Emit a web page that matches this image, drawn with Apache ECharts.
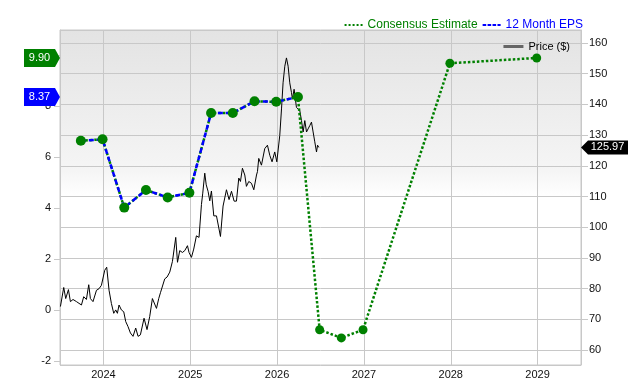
<!DOCTYPE html>
<html>
<head>
<meta charset="utf-8">
<script src="https://cdn.jsdelivr.net/npm/echarts@6.0.0/dist/echarts.min.js"></script>
<style>
  html, body { margin: 0; padding: 0; background: #fff; }
  #chart { width: 640px; height: 380px; }
</style>
</head>
<body>
<div id="chart"></div>
<script>
// price ($), decimal years
const priceYears = [
  2023.505, 2023.543, 2023.566, 2023.597, 2023.62, 2023.65, 2023.69, 2023.747, 2023.773, 2023.804,
  2023.831, 2023.85, 2023.88, 2023.92, 2023.949, 2023.977, 2024.015, 2024.038, 2024.065, 2024.092,
  2024.119, 2024.142, 2024.161, 2024.18, 2024.207, 2024.234, 2024.257, 2024.283, 2024.311, 2024.341,
  2024.372, 2024.399, 2024.426, 2024.468, 2024.502, 2024.533, 2024.564, 2024.583, 2024.611, 2024.637,
  2024.657, 2024.68, 2024.706, 2024.733, 2024.764, 2024.795, 2024.813, 2024.833, 2024.853, 2024.879,
  2024.91, 2024.937, 2024.968, 2024.986, 2025.014, 2025.04, 2025.071, 2025.101, 2025.129, 2025.144,
  2025.167, 2025.184, 2025.205, 2025.225, 2025.244, 2025.271, 2025.302, 2025.32, 2025.348, 2025.378,
  2025.417, 2025.447, 2025.475, 2025.505, 2025.532, 2025.559, 2025.578, 2025.601, 2025.628, 2025.647,
  2025.674, 2025.705, 2025.732, 2025.763, 2025.774, 2025.789, 2025.80, 2025.82, 2025.858, 2025.889,
  2025.916, 2025.942, 2025.973, 2025.997, 2026.011, 2026.031, 2026.051, 2026.069, 2026.089, 2026.108,
  2026.127, 2026.146, 2026.166, 2026.177, 2026.196, 2026.223, 2026.242, 2026.262, 2026.281, 2026.3,
  2026.319, 2026.339, 2026.357, 2026.377, 2026.396, 2026.415, 2026.434, 2026.454, 2026.466, 2026.481
];
const priceValues = [
  74.2, 80.4, 76.8, 79.7, 75.8, 76.5, 75.8, 74.7, 77.4, 76.5,
  81.3, 76.8, 75.8, 79.5, 80.0, 81.1, 86.0, 87.0, 79.5, 75.2,
  72.0, 73.1, 72.0, 74.7, 73.1, 72.5, 69.3, 67.7, 65.6, 64.5,
  67.2, 64.5, 65.0, 70.4, 66.7, 70.9, 76.8, 76.5, 73.6, 76.8,
  78.7, 78.4, 83.2, 83.8, 85.4, 88.9, 89.2, 96.7, 88.6, 92.4,
  91.8, 92.4, 94.0, 91.8, 90.2, 92.9, 97.2, 96.7, 107.4, 111.1,
  117.6, 113.8, 111.7, 108.6, 111.8, 103.7, 103.7, 103.1, 97.0, 106.9,
  112.2, 109.0, 111.7, 108.5, 108.5, 116.0, 114.9, 119.2, 117.0, 113.3,
  114.9, 114.3, 112.2, 117.0, 118.1, 122.4, 122.9, 120.2, 125.6, 126.7,
  123.4, 121.3, 124.5, 121.3, 121.3, 129.9, 138.5, 147.0, 152.4, 155.1,
  152.4, 147.0, 143.8, 141.7, 144.9, 139.0, 139.5, 137.9, 134.7, 131.0,
  134.7, 131.0, 132.0, 133.1, 134.2, 131.0, 127.8, 124.5, 126.7, 125.97
];

// 12 month EPS (reported)
const epsYears = [2023.74, 2023.99, 2024.24, 2024.49, 2024.74, 2024.99, 2025.24, 2025.49, 2025.74, 2025.99, 2026.24];
const epsValues = [6.65, 6.71, 4.03, 4.72, 4.43, 4.61, 7.74, 7.74, 8.2, 8.18, 8.37];

// consensus estimates
const estYears = [2026.49, 2026.74, 2026.99, 2027.99, 2028.99];
const estValues = [-0.76, -1.08, -0.76, 9.69, 9.9];

const lastPrice = 125.97;
const lastEps = 8.37;
const topEstimate = 9.9;

const xMin = 2023.5, xMax = 2029.5;

const pairs = (xs, ys) => xs.map((x, i) => [x, ys[i]]);
const font = "Liberation Sans";

const rightArrow = "path://M0,0 L31,0 L36,9 L31,18 L0,18 Z";
const leftArrow = "path://M0,7 L7,0 L47,0 L47,14 L7,14 Z";

const chart = echarts.init(document.getElementById("chart"));
chart.setOption({
  animation: false,
  textStyle: { fontFamily: font },
  legend: [
    {
      right: 52,
      top: 14,
      itemGap: 5,
      itemWidth: 18,
      itemHeight: 3,
      textStyle: { fontSize: 12, fontFamily: font },
      selectedMode: false,
      data: [
        {
          name: "Consensus Estimate",
          icon: "path://M0,0h2v2h-2z M4,0h2v2h-2z M8,0h2v2h-2z M12,0h2v2h-2z M16,0h2v2h-2z",
          itemStyle: { color: "#008000" },
          textStyle: { color: "#008000" },
        },
        {
          name: "12 Month EPS",
          icon: "path://M0,0h4v2h-4z M5.5,0h4v2h-4z M11,0h4v2h-4z M16.5,0h3.5v2h-3.5z",
          itemStyle: { color: "#0000ff" },
          textStyle: { color: "#0000ff" },
        },
      ],
    },
    {
      right: 65,
      top: 36,
      itemWidth: 20,
      itemHeight: 3,
      selectedMode: false,
      textStyle: { fontSize: 11, color: "#000", fontFamily: font },
      data: [{ name: "Price ($)", icon: "rect", itemStyle: { color: "#666" } }],
    },
  ],
  grid: {
    left: 60,
    right: 59,
    top: 30,
    bottom: 11,
    show: true,
    borderColor: "#c8c8c8",
    borderWidth: 1,
    backgroundColor: {
      type: "linear",
      x: 0, y: 0, x2: 0, y2: 1,
      colorStops: [
        { offset: 0, color: "#e3e3e3" },
        { offset: 0.42, color: "#f5f5f5" },
        { offset: 0.5, color: "#ffffff" },
        { offset: 1, color: "#ffffff" },
      ],
    },
  },
  xAxis: {
    type: "value",
    min: xMin,
    max: xMax,
    splitNumber: 6,
    axisLine: { show: false },
    axisTick: { show: true, length: 3, lineStyle: { color: "#c8c8c8" } },
    splitLine: { show: true, lineStyle: { color: "#c8c8c8" } },
    axisLabel: {
      color: "#111",
      fontSize: 11,
      margin: 4,
      showMinLabel: false,
      showMaxLabel: false,
      formatter: (v) => (Number.isInteger(v) ? String(v) : ""),
    },
  },
  yAxis: [
    {
      // EPS
      type: "value",
      position: "left",
      min: -2.143,
      max: 10.996,
      splitNumber: 6,
      axisLine: { show: true, lineStyle: { color: "#c8c8c8" } },
      axisTick: { show: true, length: 6, lineStyle: { color: "#c8c8c8" } },
      splitLine: { show: false },
      axisLabel: {
        color: "#111",
        fontSize: 11,
        margin: 9,
        showMinLabel: false,
        showMaxLabel: false,
        formatter: (v) => (Number.isInteger(v) ? String(v) : ""),
      },
    },
    {
      // price
      type: "value",
      position: "right",
      min: 55.18,
      max: 164.18,
      splitNumber: 10,
      axisLine: { show: true, lineStyle: { color: "#c8c8c8" } },
      axisTick: { show: true, length: 7, lineStyle: { color: "#c8c8c8" } },
      splitLine: { show: true, lineStyle: { color: "#c8c8c8" } },
      axisLabel: {
        color: "#111",
        fontSize: 11,
        margin: 8,
        showMinLabel: false,
        showMaxLabel: false,
        formatter: (v) => (Number.isInteger(v) ? String(v) : ""),
      },
    },
  ],
  series: [
    {
      name: "Price ($)",
      type: "line",
      yAxisIndex: 1,
      data: pairs(priceYears, priceValues),
      showSymbol: false,
      lineStyle: { color: "#000", width: 1 },
      itemStyle: { color: "#000" },
      z: 2,
      markPoint: {
        symbol: leftArrow,
        symbolSize: [47, 14],
        symbolKeepAspect: false,
        symbolOffset: [23.5, 0],
        itemStyle: { color: "#000" },
        label: {
          show: true,
          position: "inside",
          color: "#fff",
          fontSize: 11,
          offset: [3, 0],
          formatter: (p) => p.value.toFixed(2),
        },
        data: [{ coord: [xMax, lastPrice], value: lastPrice }],
      },
    },
    {
      name: "Consensus Estimate",
      type: "line",
      yAxisIndex: 0,
      data: pairs(epsYears, epsValues).concat(pairs(estYears, estValues)),
      symbol: "circle",
      symbolSize: (v, p) => (p.dataIndex < epsYears.length ? 0 : 9),
      lineStyle: { color: "#008000", width: 2.5, type: [2.5, 2] },
      itemStyle: { color: "#008000" },
      z: 3,
      markPoint: {
        symbol: rightArrow,
        symbolSize: [36, 18],
        symbolKeepAspect: false,
        symbolOffset: [-18, 0],
        itemStyle: { color: "#008000" },
        label: {
          show: true,
          position: "inside",
          color: "#fff",
          fontSize: 11,
          offset: [-2.5, 0],
          formatter: (p) => p.value.toFixed(2),
        },
        data: [{ coord: [xMin, topEstimate], value: topEstimate }],
      },
    },
    {
      name: "12 Month EPS",
      type: "line",
      yAxisIndex: 0,
      data: pairs(epsYears, epsValues),
      symbol: "circle",
      symbolSize: 10,
      showAllSymbol: true,
      lineStyle: { color: "#0000ff", width: 2.5, type: [5, 3] },
      itemStyle: { color: "#008000" },
      z: 4,
      markPoint: {
        symbol: rightArrow,
        symbolSize: [36, 18],
        symbolKeepAspect: false,
        symbolOffset: [-18, 0],
        itemStyle: { color: "#0000ff" },
        label: {
          show: true,
          position: "inside",
          color: "#fff",
          fontSize: 11,
          offset: [-2.5, 0],
          formatter: (p) => p.value.toFixed(2),
        },
        data: [{ coord: [xMin, lastEps], value: lastEps }],
      },
    },
  ],
});
</script>
</body>
</html>
